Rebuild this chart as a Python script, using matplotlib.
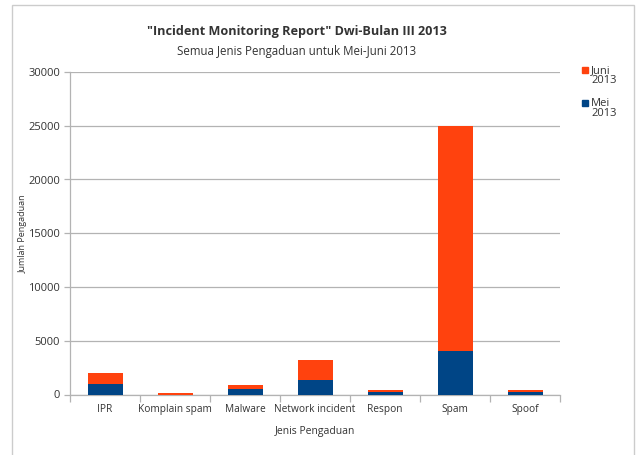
import matplotlib.pyplot as plt
from matplotlib.patches import Rectangle
import numpy as np

plt.rcParams['font.family'] = ['Open Sans', 'DejaVu Sans']

categories = ['IPR', 'Komplain spam', 'Malware', 'Network incident', 'Respon', 'Spam', 'Spoof']
mei = [960, 0, 500, 1360, 240, 4010, 210]
juni = [1000, 180, 370, 1870, 160, 20990, 190]
y_ticks = [0, 5000, 10000, 15000, 20000, 25000, 30000]

blue = '#004586'
orange = '#ff420e'
text_col = '#333333'
grid_col = '#b3b3b3'

fig = plt.figure(figsize=(6.36, 4.55), dpi=100)
# outer frame of the chart
fig.patches.append(Rectangle((12 / 636, -0.01), 622 / 636, 1 - 5 / 455 + 0.01,
                             transform=fig.transFigure, fill=False,
                             edgecolor='#cccccc', linewidth=1))

ax = fig.add_axes([70 / 636, 1 - 394.5 / 455, 490 / 636, (394.5 - 72) / 455])

x = np.arange(len(categories))
ax.bar(x, mei, width=0.5, color=blue, zorder=3)
ax.bar(x, juni, width=0.5, bottom=mei, color=orange, zorder=3)

ax.set_xlim(-0.5, len(categories) - 0.5)
ax.set_ylim(0, 30000)
ax.set_yticks(y_ticks)
ax.set_yticklabels([str(v) for v in y_ticks], fontsize=8, color=text_col)
ax.yaxis.grid(True, color=grid_col, linewidth=0.9, zorder=0)

# category labels centered, tick marks on boundaries
ax.set_xticks(x)
ax.set_xticklabels(categories, fontsize=7.3, color=text_col)
ax.tick_params(axis='x', length=0, pad=7)
ax.set_xticks(np.arange(len(categories) + 1) - 0.5, minor=True)
ax.tick_params(axis='x', which='minor', length=5, color=grid_col, width=0.9)
ax.tick_params(axis='y', length=4, color=grid_col, width=0.9, pad=3)

for s in ['top', 'right']:
    ax.spines[s].set_visible(False)
for s in ['left', 'bottom']:
    ax.spines[s].set_color(grid_col)
    ax.spines[s].set_linewidth(0.9)

ax.set_xlabel('Jenis Pengaduan', fontsize=7.5, color=text_col, labelpad=8)
ax.set_ylabel('Jumlah Pengaduan', fontsize=6.5, color=text_col, labelpad=0)
ax.yaxis.set_label_coords(-42 / 490, 0.5)

cx = 297 / 636
fig.text(cx, 1 - 32 / 455, '"Incident Monitoring Report" Dwi-Bulan III 2013',
         ha='center', va='center', fontsize=9.1, fontweight='bold', color=text_col)
fig.text(cx, 1 - 52 / 455, 'Semua Jenis Pengaduan untuk Mei-Juni 2013',
         ha='center', va='center', fontsize=8.3, color=text_col)

# legend
for i, (lab, col) in enumerate([('Juni\n2013', orange), ('Mei\n2013', blue)]):
    yy = 1 - (70 + i * 33) / 455
    fig.patches.append(Rectangle((582 / 636, yy - 2.5 / 455), 6 / 636, 6 / 455,
                                 transform=fig.transFigure, color=col))
    fig.text(591 / 636, yy + 5 / 455, lab, ha='left', va='top', fontsize=8,
             color=text_col, linespacing=0.9)

fig.savefig('out.png', dpi=100)
